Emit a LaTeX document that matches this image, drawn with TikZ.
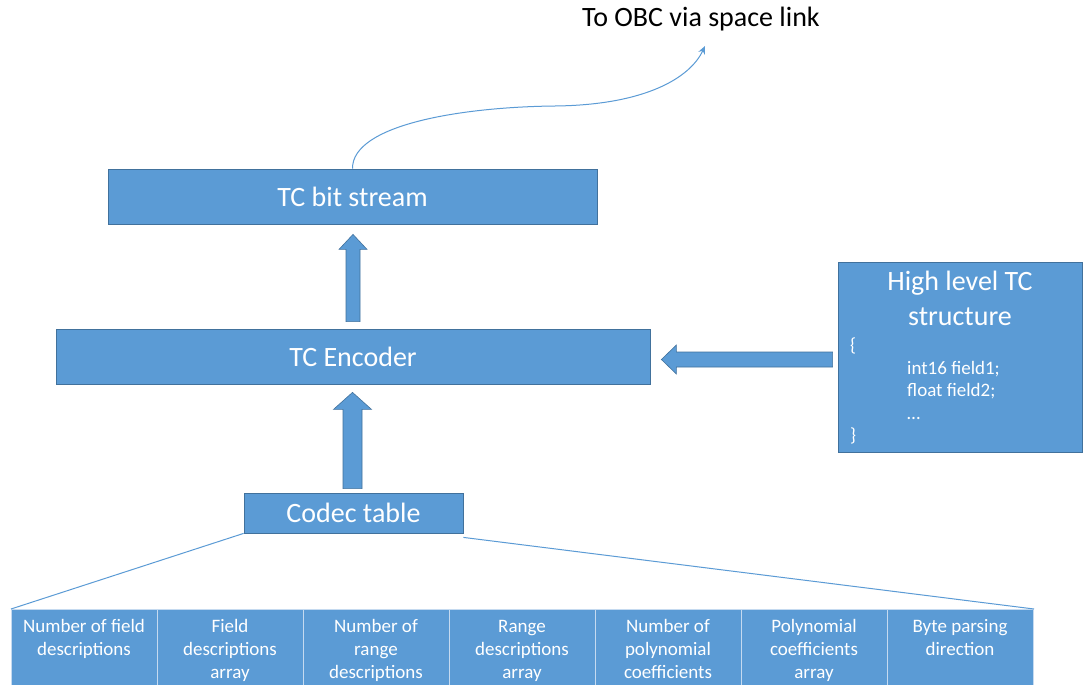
\documentclass[tikz,border=0pt]{standalone}
\usepackage{fontspec}
\setmainfont{Carlito}
\usetikzlibrary{arrows.meta,calc}
\definecolor{ofblue}{HTML}{5B9BD5}
\definecolor{ofdark}{HTML}{41719C}
\definecolor{cellline}{HTML}{C5DAF0}
\begin{document}
\begin{tikzpicture}[x=1pt,y=-1pt,
  box/.style={draw=ofdark, fill=ofblue, line width=0.8pt, inner sep=0pt, text=white,
    font=\fontsize{28}{35}\selectfont},
  cell/.style={draw=cellline, fill=ofblue, line width=1pt, minimum width=146pt,
    minimum height=100pt, anchor=north west, inner sep=0pt},
  celltext/.style={text=white, font=\fontsize{19}{23}\selectfont, align=center,
    anchor=north, inner sep=0pt},
  blockarrow/.style={draw=ofdark, fill=ofblue, line width=0.6pt},
  thinlink/.style={draw=ofblue, line width=1pt}]
\clip (0,0) rectangle (1085,685);
\fill[white] (0,0) rectangle (1085,685);

% top label
\node[font=\fontsize{28}{34}\selectfont, anchor=base, inner sep=0pt] (obc) at (701,27) {To OBC via space link};
\coordinate (obcend) at (705,46);

% main boxes
\node[box, minimum width=489pt, minimum height=55pt] (bs) at (352.5,196.5) {TC bit stream};
\node[box, minimum width=594pt, minimum height=55pt] (enc) at (353,356.5) {TC Encoder};
\node[box, minimum width=219pt, minimum height=40pt] (codec) at (353.5,513) {Codec table};
\node[box, minimum width=244pt, minimum height=190pt] (hl) at (960,357) {};
\node[text=white, font=\fontsize{28}{35}\selectfont, align=center, anchor=north, inner sep=0pt]
  (hltitle) at (960,265.5) {\strut High level TC\\structure};
\node[text=white, font=\fontsize{19}{22.5}\selectfont, align=left, anchor=north west, inner sep=0pt]
  (hlcode) at (850,336) {\strut\{\\\hspace*{57pt}int16 field1;\\\hspace*{57pt}float field2;\\\hspace*{57pt}…\\\}};

% curved link
\draw[thinlink, -{Stealth[length=8pt,width=7pt]}] (bs.north)
  .. controls (352,125) and (460,107) .. (555,106)
  .. controls (645,105) and (690,78) .. (obcend);

% block arrows
\draw[blockarrow] let \p1=($(enc.north)+(0,-7)$), \p2=($(bs.south)+(0,10)$) in
  (\x1-7pt,\y1) -- (\x1-7pt,\y2-15pt) -- (\x1-14pt,\y2-15pt) -- (\x1,\y2)
  -- (\x1+14pt,\y2-15pt) -- (\x1+7pt,\y2-15pt) -- (\x1+7pt,\y1) -- cycle;
\draw[blockarrow] let \p1=($(codec.north)+(-1,-4)$), \p2=($(enc.south)+(0,8)$) in
  (\x1-9.5pt,\y1) -- (\x1-9.5pt,\y2-17pt) -- (\x1-19pt,\y2-17pt) -- (\x1,\y2)
  -- (\x1+19pt,\y2-17pt) -- (\x1+9.5pt,\y2-17pt) -- (\x1+9.5pt,\y1) -- cycle;
\draw[blockarrow] let \p1=($(hl.west)+(-5,0)$), \p2=($(enc.east)+(11,3)$) in
  (\x1,\y2+7.5pt) -- (\x2+15pt,\y2+7.5pt) -- (\x2+15pt,\y2+14.5pt) -- (\x2,\y2)
  -- (\x2+15pt,\y2-14.5pt) -- (\x2+15pt,\y2-7.5pt) -- (\x1,\y2-7.5pt) -- cycle;

% cells
\node[cell] (c1) at (11,609) {};
\node[cell] (c2) at (157,609) {};
\node[cell] (c3) at (303,609) {};
\node[cell] (c4) at (449,609) {};
\node[cell] (c5) at (595,609) {};
\node[cell] (c6) at (741,609) {};
\node[cell] (c7) at (887,609) {};
\node[celltext] (t1) at (84,616) {\strut Number of field\\descriptions};
\node[celltext] (t2) at (230,616) {\strut Field\\descriptions\\array};
\node[celltext] (t3) at (376,616) {\strut Number of\\range\\descriptions};
\node[celltext] (t4) at (522,616) {\strut Range\\descriptions\\array};
\node[celltext] (t5) at (668,616) {\strut Number of\\polynomial\\coefficients};
\node[celltext] (t6) at (814,616) {\strut Polynomial\\coefficients\\array};
\node[celltext] (t7) at (960,616) {\strut Byte parsing\\direction};

% fan lines
\draw[thinlink] (codec.south west) -- (c1.north west);
\draw[thinlink] ($(codec.south east)+(0,4)$) -- (c7.north east);
\end{tikzpicture}
\end{document}
